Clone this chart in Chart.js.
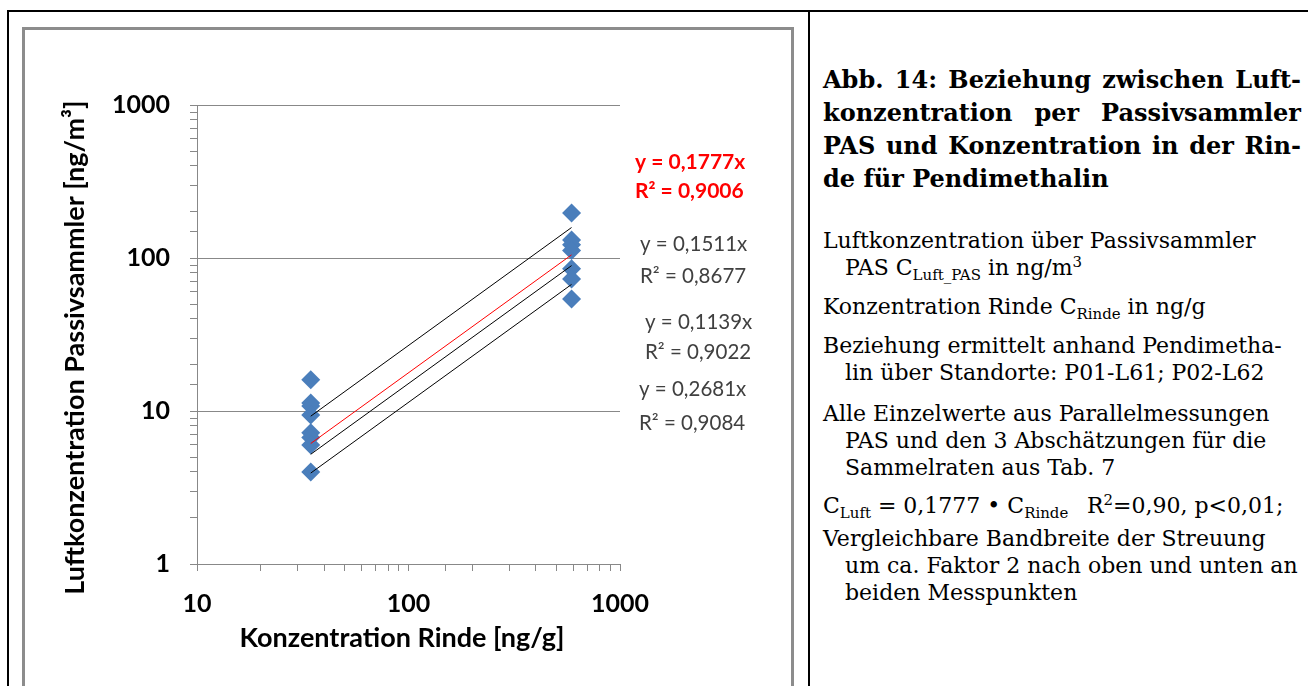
<!DOCTYPE html>
<html>
<head>
<meta charset="utf-8">
<script src="https://cdn.jsdelivr.net/npm/chart.js@4"></script>
<style>
  html, body { margin: 0; padding: 0; background: #fff; }
  body { width: 1308px; height: 686px; position: relative; overflow: hidden; }
  .frame-top { position: absolute; left: 7px; top: 10px; width: 1301px; height: 2px; background: #000; }
  .frame-left { position: absolute; left: 7px; top: 10px; width: 2px; height: 676px; background: #000; }
  .frame-mid { position: absolute; left: 808px; top: 10px; width: 2px; height: 676px; background: #000; }
  .chartbox { position: absolute; left: 22px; top: 27px; width: 766px; height: 700px; border: 3px solid #8c8c8c; }
  #chart { position: absolute; left: 25px; top: 30px; }
  .t { position: absolute; white-space: nowrap; font-family: "DejaVu Serif", serif; font-size: 22px; line-height: 22px; color: #000; }
  .t sub, .t sup { font-size: 0.68em; line-height: 0; }
  .h { position: absolute; left: 823px; width: 478px; font-family: "DejaVu Serif", serif; font-weight: bold; font-size: 24px; line-height: 24px; text-align: justify; text-align-last: justify; white-space: nowrap; }
  .h.last { text-align-last: left; }
</style>
</head>
<body>
<div class="frame-top"></div>
<div class="frame-left"></div>
<div class="frame-mid"></div>
<div class="chartbox"></div>
<canvas id="chart" width="766" height="656"></canvas>

<div class="h" style="top:68px">Abb. 14: Beziehung zwischen Luft-</div>
<div class="h" style="top:101px">konzentration per Passivsammler</div>
<div class="h" style="top:134px">PAS und Konzentration in der Rin-</div>
<div class="h last" style="top:167px">de für Pendimethalin</div>

<div class="t" style="left:823px;top:230px">Luftkonzentration über Passivsammler</div>
<div class="t" style="left:845px;top:257px">PAS C<sub>Luft_PAS</sub> in ng/m<sup>3</sup></div>
<div class="t" style="left:823px;top:296px">Konzentration Rinde C<sub>Rinde</sub> in ng/g</div>
<div class="t" style="left:823px;top:335px">Beziehung ermittelt anhand Pendimetha-</div>
<div class="t" style="left:845px;top:362px">lin über Standorte: P01-L61; P02-L62</div>
<div class="t" style="left:823px;top:403px">Alle Einzelwerte aus Parallelmessungen</div>
<div class="t" style="left:845px;top:430px">PAS und den 3 Abschätzungen für die</div>
<div class="t" style="left:845px;top:457px">Sammelraten aus Tab. 7</div>
<div class="t" style="left:823px;top:495px">C<sub>Luft</sub> = 0,1777 • C<sub>Rinde</sub></div>
<div class="t" style="left:1087px;top:495px">R<sup>2</sup>=0,90, p&lt;0,01;</div>
<div class="t" style="left:823px;top:528px">Vergleichbare Bandbreite der Streuung</div>
<div class="t" style="left:845px;top:555px">um ca. Faktor 2 nach oben und unten an</div>
<div class="t" style="left:845px;top:582px">beiden Messpunkten</div>

<script>
// Konzentration Rinde [ng/g] an den zwei Standorten
var rindeLow = 34.5;
var rindeHigh = 590;
// Einzelwerte PAS [ng/m3]
var pasLow = [16.0, 11.3, 10.8, 9.4, 7.2, 6.7, 6.0, 4.0];
var pasHigh = [197, 131, 122, 112, 85, 73, 54];
// Trendlinien y = a*x
var slopes = [0.1777, 0.1511, 0.1139, 0.2681];
var slopeText = ['0,1777', '0,1511', '0,1139', '0,2681'];
var r2Text = ['0,9006', '0,8677', '0,9022', '0,9084'];
var lineColors = ['#ff0000', '#000000', '#000000', '#000000'];

var points = [];
pasLow.forEach(function(v) { points.push({x: rindeLow, y: v}); });
pasHigh.forEach(function(v) { points.push({x: rindeHigh, y: v}); });

var datasets = [];
slopes.forEach(function(a, i) {
  datasets.push({
    data: [{x: rindeLow, y: a * rindeLow}, {x: rindeHigh, y: a * rindeHigh}],
    showLine: true,
    borderColor: lineColors[i],
    borderWidth: 1,
    pointRadius: 0
  });
});
datasets.push({
  data: points,
  pointStyle: 'rectRot',
  pointRadius: 9.5,
  backgroundColor: '#4a7ebb',
  borderColor: '#4a7ebb',
  borderWidth: 0
});

var font = 'Lato';

// Beschriftung der Trendlinien rechts neben dem Diagramm
var trendLabels = {
  id: 'trendLabels',
  afterDraw: function(chart) {
    var c = chart.ctx;
    var pos = [[610, 132, 161], [615, 214, 246], [620, 292, 322], [614, 359, 393]];
    c.save();
    c.textBaseline = 'middle';
    c.textAlign = 'left';
    slopes.forEach(function(a, i) {
      c.fillStyle = i === 0 ? '#ff0000' : '#404040';
      c.font = (i === 0 ? 'bold 21px ' : '20.5px ') + font;
      c.fillText('y = ' + slopeText[i] + 'x', pos[i][0], pos[i][1]);
      c.fillText('R² = ' + r2Text[i], pos[i][0], pos[i][2]);
    });
    c.restore();
  }
};

function isDecade(v) {
  return [1, 10, 100, 1000].indexOf(v) >= 0;
}

new Chart(document.getElementById('chart'), {
  type: 'scatter',
  data: { datasets: datasets },
  plugins: [trendLabels],
  options: {
    responsive: false,
    animation: false,
    layout: { padding: { left: 0, top: 75, right: 171, bottom: 32 } },
    plugins: { legend: { display: false }, tooltip: { enabled: false } },
    scales: {
      x: {
        type: 'logarithmic',
        min: 10,
        max: 1000,
        afterFit: function(s) { s.height = 90; },
        border: { color: '#888' },
        grid: { drawOnChartArea: false, tickLength: 7, tickColor: '#888' },
        ticks: {
          autoSkip: false,
          maxRotation: 0,
          padding: 18,
          color: '#000',
          font: { family: font, size: 25, weight: 'bold' },
          callback: function(v) { return isDecade(v) ? String(v) : ''; }
        },
        title: {
          display: true,
          text: 'Konzentration Rinde [ng/g]  ',
          color: '#000',
          font: { family: font, size: 27, weight: 'bold' },
          padding: { top: 0, bottom: 0 }
        }
      },
      y: {
        type: 'logarithmic',
        min: 1,
        max: 1000,
        afterFit: function(s) { s.width = 172; },
        border: { color: '#888' },
        grid: {
          tickLength: 7,
          tickColor: '#888',
          color: function(ctx) { return ctx.tick && isDecade(ctx.tick.value) ? '#888' : 'rgba(0,0,0,0)'; }
        },
        ticks: {
          autoSkip: false,
          padding: 20,
          color: '#000',
          font: { family: font, size: 25, weight: 'bold' },
          callback: function(v) { return isDecade(v) ? String(v) : ''; }
        },
        title: {
          display: true,
          text: 'Luftkonzentration Passivsammler [ng/m³]    ',
          color: '#000',
          font: { family: font, size: 27, weight: 'bold' },
          padding: { top: 34, bottom: 0 }
        }
      }
    }
  }
});
</script>
</body>
</html>
